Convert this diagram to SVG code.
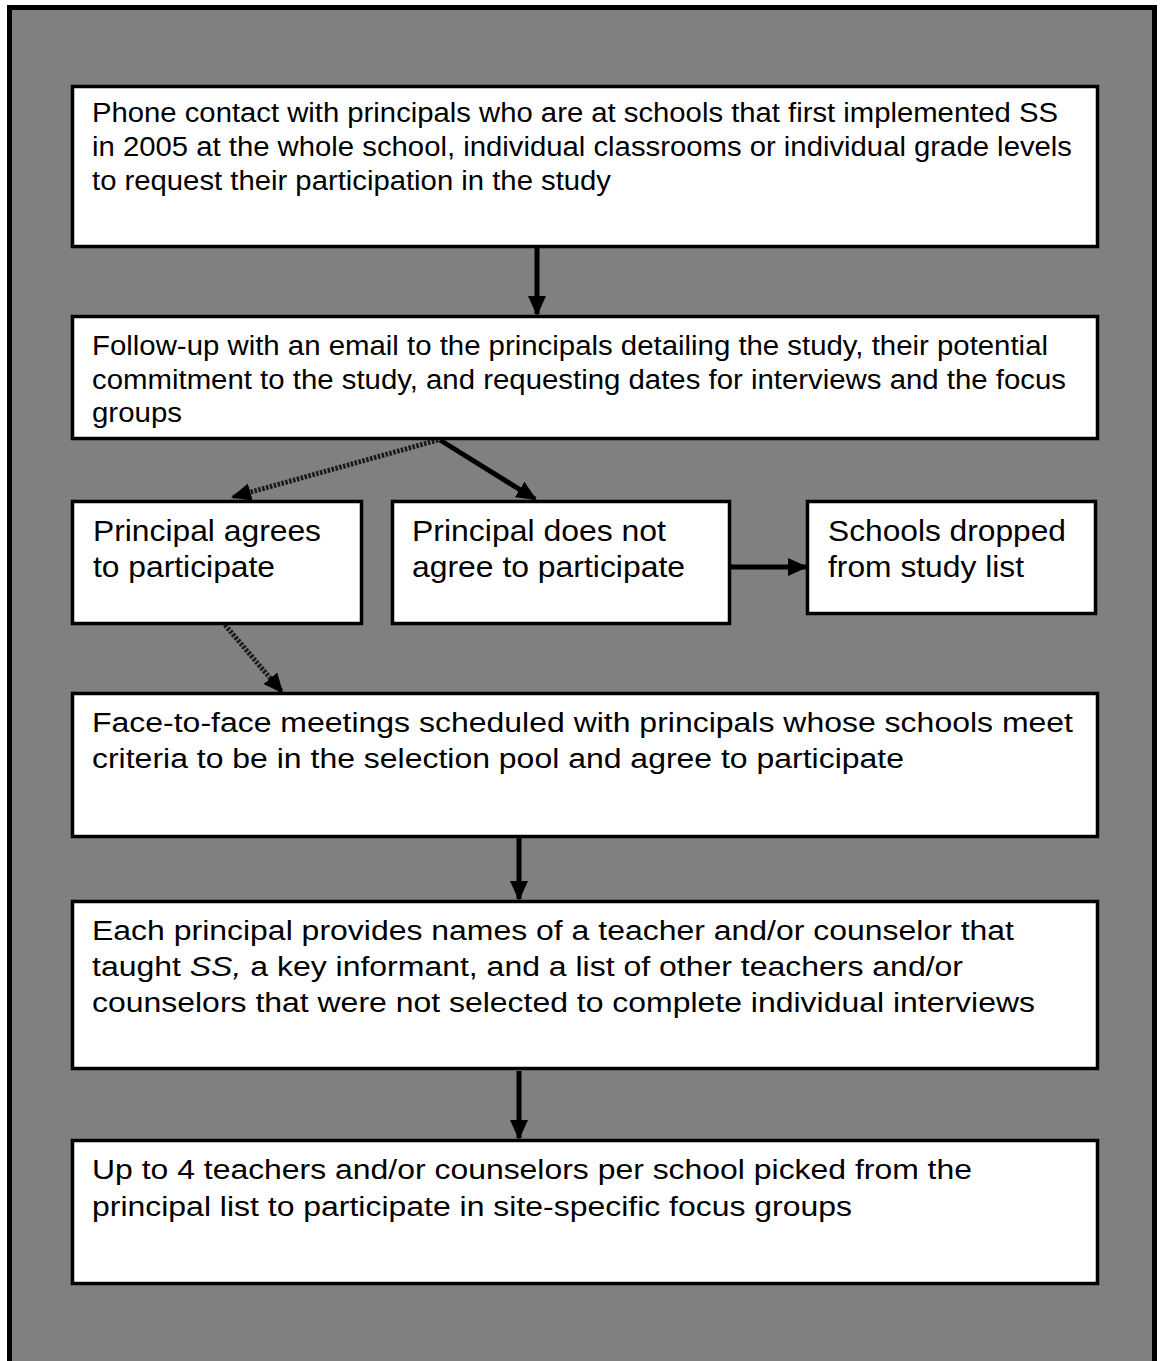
<svg xmlns="http://www.w3.org/2000/svg" width="1160" height="1361" viewBox="0 0 1160 1361">
<defs>
<style>
.box{fill:#ffffff;stroke:#000000;stroke-width:3.5}
.t{font-family:"Liberation Sans",Arial,sans-serif;font-size:27px;fill:#000000}
.tb{font-family:"Liberation Sans",Arial,sans-serif;font-size:29px;fill:#000000}
.c{stroke:#000000;stroke-width:5;fill:none}
.ct{stroke:#1a1a1a;stroke-width:5;fill:none;stroke-dasharray:2.5 1.5}
</style>
<marker id="ah" markerUnits="userSpaceOnUse" markerWidth="20" markerHeight="20" viewBox="0 0 20 20" refX="18" refY="10" orient="auto">
<path d="M0,1 L20,10 L0,19 Z" fill="#000000"/>
</marker>
</defs>
<rect x="0" y="0" width="1160" height="1361" fill="#ffffff"/>
<rect x="9.5" y="7.5" width="1145" height="1380" fill="#808080" stroke="#000000" stroke-width="5"/>
<g id="connectors">
<line class="c" x1="537" y1="248" x2="537" y2="314" marker-end="url(#ah)"/>
<line class="ct" x1="438" y1="440" x2="233" y2="497" marker-end="url(#ah)"/>
<line class="c" x1="440" y1="440" x2="535" y2="499" marker-end="url(#ah)"/>
<line class="c" x1="731" y1="567" x2="806" y2="567" marker-end="url(#ah)"/>
<line class="ct" x1="225" y1="625" x2="282" y2="692" marker-end="url(#ah)"/>
<line class="c" x1="519" y1="838" x2="519" y2="899" marker-end="url(#ah)"/>
<line class="c" x1="519" y1="1071" x2="519" y2="1138" marker-end="url(#ah)"/>
</g>
<g id="n1">
<rect class="box" x="72.5" y="86.5" width="1025" height="160"/>
<text class="t" x="92" y="122" textLength="966" lengthAdjust="spacingAndGlyphs">Phone contact with principals who are at schools that first implemented SS</text>
<text class="t" x="92" y="156" textLength="980" lengthAdjust="spacingAndGlyphs">in 2005 at the whole school, individual classrooms or individual grade levels</text>
<text class="t" x="92" y="190" textLength="519" lengthAdjust="spacingAndGlyphs">to request their participation in the study</text>
</g>
<g id="n2">
<rect class="box" x="72.5" y="316.5" width="1025" height="122"/>
<text class="t" x="92" y="355" textLength="956" lengthAdjust="spacingAndGlyphs">Follow-up with an email to the principals detailing the study, their potential</text>
<text class="t" x="92" y="389" textLength="974" lengthAdjust="spacingAndGlyphs">commitment to the study, and requesting dates for interviews and the focus</text>
<text class="t" x="92" y="422" textLength="90" lengthAdjust="spacingAndGlyphs">groups</text>
</g>
<g id="n3">
<rect class="box" x="72.5" y="501.5" width="289" height="122"/>
<text class="tb" x="93" y="541" textLength="228" lengthAdjust="spacingAndGlyphs">Principal agrees</text>
<text class="tb" x="93" y="577" textLength="182" lengthAdjust="spacingAndGlyphs">to participate</text>
</g>
<g id="n4">
<rect class="box" x="392.5" y="501.5" width="337" height="122"/>
<text class="tb" x="412" y="541" textLength="254" lengthAdjust="spacingAndGlyphs">Principal does not</text>
<text class="tb" x="412" y="577" textLength="273" lengthAdjust="spacingAndGlyphs">agree to participate</text>
</g>
<g id="n5">
<rect class="box" x="807.5" y="501.5" width="288" height="112"/>
<text class="tb" x="828" y="541" textLength="238" lengthAdjust="spacingAndGlyphs">Schools dropped</text>
<text class="tb" x="828" y="577" textLength="196" lengthAdjust="spacingAndGlyphs">from study list</text>
</g>
<g id="n6">
<rect class="box" x="72.5" y="693.5" width="1025" height="143"/>
<text class="t" x="92" y="732" textLength="981" lengthAdjust="spacingAndGlyphs">Face-to-face meetings scheduled with principals whose schools meet</text>
<text class="t" x="92" y="768" textLength="812" lengthAdjust="spacingAndGlyphs">criteria to be in the selection pool and agree to participate</text>
</g>
<g id="n7">
<rect class="box" x="72.5" y="901.5" width="1025" height="167"/>
<text class="t" x="92" y="940" textLength="922" lengthAdjust="spacingAndGlyphs">Each principal provides names of a teacher and/or counselor that</text>
<text class="t" x="92" y="976" textLength="871" lengthAdjust="spacingAndGlyphs">taught <tspan font-style="italic">SS,</tspan> a key informant, and a list of other teachers and/or</text>
<text class="t" x="92" y="1012" textLength="943" lengthAdjust="spacingAndGlyphs">counselors that were not selected to complete individual interviews</text>
</g>
<g id="n8">
<rect class="box" x="72.5" y="1140.5" width="1025" height="143"/>
<text class="t" x="92" y="1179" textLength="880" lengthAdjust="spacingAndGlyphs">Up to 4 teachers and/or counselors per school picked from the</text>
<text class="t" x="92" y="1216" textLength="760" lengthAdjust="spacingAndGlyphs">principal list to participate in site-specific focus groups</text>
</g>
</svg>
